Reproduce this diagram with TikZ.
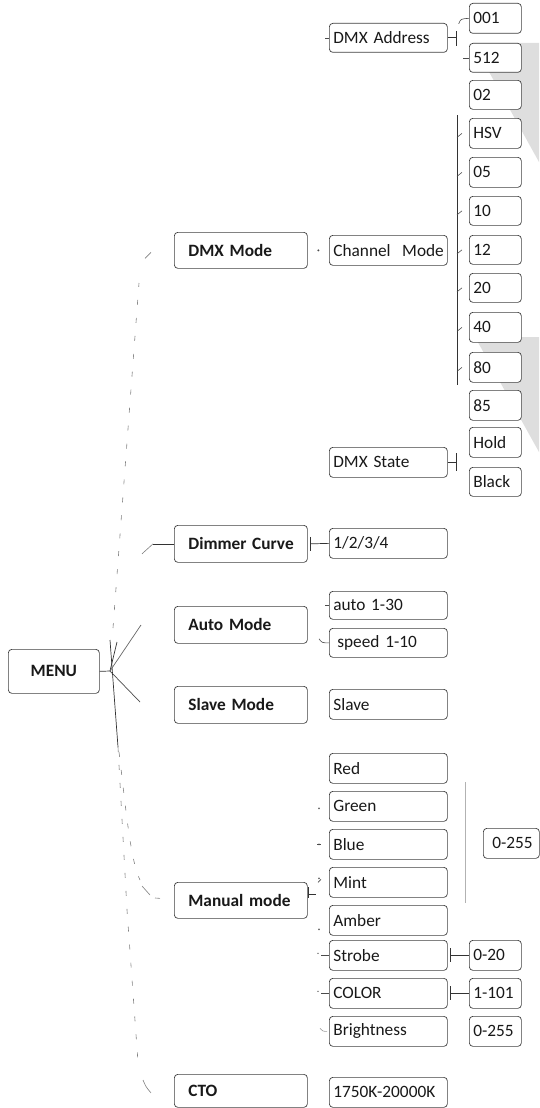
\documentclass[tikz,border=0pt]{standalone}
\usepackage{fontspec}
\setmainfont[WordSpace=0.8]{Carlito}
\usetikzlibrary{calc}
\newcommand{\fsz}{\fontsize{17.3}{20}\selectfont}
\begin{document}
\begin{tikzpicture}[x=1pt,y=-1pt,
 bx/.style={draw=black!75, line width=0.7pt, rounded corners=3.5pt, fill=white, anchor=north west, font=\fsz, text=black!90, inner ysep=0pt, align=left},
 lb/.style={bx, font=\fsz\bfseries, text width=105pt, inner xsep=14pt, minimum height=36pt},
 rb/.style={bx, text width=110pt, inner xsep=4pt, minimum height=30pt},
 sb/.style={bx, text width=44pt, inner xsep=4pt, minimum height=30pt},
 ln/.style={draw=black!80, line width=0.7pt},
 dl/.style={draw=black!50, line width=0.6pt, dash pattern=on 5pt off 13pt},
 tk/.style={draw=black!70, line width=0.6pt},
 shade/.style={fill=black!13, draw=none}]
\useasboundingbox (0,0) rectangle (539,1108);
% grey shading
\fill[shade] (473,43) -- (539,43) -- (539,162) -- cycle;
\fill[shade] (475,337) -- (539,337) -- (539,452) -- cycle;
% root
\node[bx, font=\fsz\bfseries, minimum width=91pt, minimum height=44pt, align=center, inner xsep=0pt] (menu) at (8,649) {MENU};
% left column
\node[lb] (dmxmode) at (174,232) {\mbox{DMX Mode}};
\node[lb, minimum height=37pt] (dimmer) at (174,525) {\mbox{Dimmer Curve}};
\node[lb, minimum height=37pt] (auto) at (174,606) {\mbox{Auto Mode}};
\node[lb, minimum height=37pt] (slave) at (174,686) {\mbox{Slave Mode}};
\node[lb] (manual) at (174,882) {\mbox{Manual mode}};
\node[lb, minimum height=33pt] (cto) at (174,1074) {CTO};
% second column
\node[rb, minimum height=29pt] (dmxaddr) at (329,23) {\mbox{DMX Address}};
\node[rb] (chmode) at (329,235) {\mbox{Channel~\ Mode}};
\node[rb] (dmxstate) at (329,447) {\mbox{DMX State}};
\node[rb] (curve) at (329,528) {1/2/3/4};
\node[rb, minimum height=28pt] (auto130) at (329,591) {\mbox{auto 1-30}};
\node[rb, minimum height=29pt] (speed) at (329,628) {\mbox{\hspace*{4pt}speed 1-10}};
\node[rb] (slavev) at (329,689) {Slave};
\node[rb] (red) at (329,753) {Red};
\node[rb] (green) at (329,791) {Green};
\node[rb] (blue) at (329,829) {Blue};
\node[rb] (mint) at (329,867) {Mint};
\node[rb] (amber) at (329,905) {Amber};
\node[rb] (strobe) at (329,940) {Strobe};
\node[rb] (color) at (329,978) {COLOR};
\node[rb] (bright) at (329,1016) {Brightness};
\node[rb] (ctov) at (329,1077) {\mbox{1750K-20000K}};
% third column
\node[sb] (c001) at (469,3) {001};
\node[sb, minimum height=29pt] (c512) at (469,43) {512};
\node[sb, minimum height=29pt] (c02) at (469,80) {02};
\node[sb] (hsv) at (469,118) {HSV};
\node[sb] (c05) at (469,157) {05};
\node[sb, minimum height=29pt] (c10) at (469,196) {10};
\node[sb, minimum height=29pt] (c12) at (469,235) {12};
\node[sb, minimum height=29pt] (c20) at (469,273) {20};
\node[sb] (c40) at (469,312) {40};
\node[sb] (c80) at (469,352) {80};
\node[sb] (c85) at (469,390) {85};
\node[sb] (hold) at (469,427) {Hold};
\node[sb, minimum height=29pt] (nblack) at (469,467) {Black};
\node[sb] (v020) at (469,940) {\mbox{0-20}};
\node[sb] (v1101) at (469,978) {\mbox{1-101}};
\node[sb] (v0255b) at (469,1016) {\mbox{0-255}};
\node[bx, text width=38pt, inner xsep=9pt, minimum height=30pt] (v0255) at (483,828) {\mbox{0-255}};
% DMX Address connectors
\draw[tk] ($(dmxaddr.west)+(-4,0)$) -- (dmxaddr.west);
\draw[ln] (dmxaddr.east) -- ++(9,0) coordinate (ja);
\draw[ln] ($(ja)+(0,-7)$) -- ($(ja)+(0,8)$);
\draw[tk] ($(ja)+(2,-14)$) .. controls ($(ja)+(4,-19)$) .. (c001.west);
\draw[tk] ($(c512.west)+(-6,0)$) -- (c512.west);
% Channel mode
\coordinate (chT) at (457,115);
\coordinate (chB) at (457,385);
\draw[ln] (chT) -- (chB);
\foreach \n in {hsv,c05,c10,c12,c20,c40,c80}
  \draw[tk] ($(\n.west)+(-12,4)$) -- ($(\n.west)+(-7,0)$);
\fill[black!70] ($(dmxmode.east)!0.5!(chmode.west)$) circle (1.1pt);
% DMX State
\draw[ln] (dmxstate.east) -- ++(9,0) coordinate (js);
\draw[ln] ($(js)+(0,-9)$) -- ($(js)+(0,9)$);
% Dimmer curve
\draw[ln] ($(dimmer.east)+(3,-7)$) -- ($(dimmer.east)+(3,7)$);
\draw[ln] ($(dimmer.east)+(3,0)$) -- (curve.west);
% Auto mode
\draw[tk] ($(auto130.west)+(-4,0)$) -- (auto130.west);
\draw[tk] ($(speed.west)+(-10,-4)$) .. controls ($(speed.west)+(-7,0)$) .. (speed.west);
% Manual mode
\draw[ln] ($(manual.east)+(1,-13)$) -- ($(manual.east)+(1,-2)$);
\draw[ln] ($(manual.east)+(1,-6)$) -- ($(manual.east)+(8,-6)$);
\foreach \n/\dy in {green/2,blue/0,mint/-4,amber/9}
  \fill[black!60] ($(\n.west)+(-10,\dy)$) circle (0.9pt);
\draw[tk] ($(blue.west)+(-12,0)$) -- ($(blue.west)+(-8,0)$);
\draw[tk] ($(mint.west)+(-11,0)$) -- ($(mint.west)+(-8,-3)$);
\foreach \n in {strobe,color}{
  \fill[black!60] ($(\n.west)+(-11,-2)$) circle (0.8pt);
  \draw[tk] ($(\n.west)+(-8,0)$) -- (\n.west);
}
\draw[tk, draw=black!40] ($(bright.west)+(-9,-3)$) .. controls ($(bright.west)+(-6,0)$) .. ($(bright.west)+(-2,0)$);
\coordinate (g1) at (465,782);
\coordinate (g2) at (465,903);
\draw[draw=black!30, line width=0.6pt] (g1) -- (g2);
\foreach \a/\b in {strobe/v020,color/v1101}{
  \draw[ln] ($(\a.east)+(3,-7)$) -- ($(\a.east)+(3,7)$);
  \draw[ln] ($(\a.east)+(3,0)$) -- (\b.west);
}
% MENU fan
\coordinate (fan) at (110,671);
\coordinate (fa) at (117,642);
\coordinate (fb1) at (110,640);
\coordinate (fb2) at (118,747);
\coordinate (fc) at (141,625);
\coordinate (fd) at (140,702);
\draw[ln] (menu.east) -- (fan);
\draw[ln] (fan) -- (fa);
\draw[ln] (fb1) -- (fb2);
\draw[ln, draw=black!60] (fan) -- (fc);
\draw[ln, draw=black!70] (fan) -- (fd);
% to DMX Mode
\coordinate (up1) at (113,628);
\coordinate (up2) at (139,283);
\draw[dl] (up1) -- (up2);
\draw[tk, draw=black!50] ($(dmxmode.west)+(-29,8)$) -- ($(dmxmode.west)+(-23,2)$);
% to Dimmer Curve
\draw[tk, draw=black!50] ($(dimmer.west)+(-32,10)$) -- ($(dimmer.west)+(-21,0)$);
\draw[ln] ($(dimmer.west)+(-21,0)$) -- (dimmer.west);
% down to Manual mode and CTO
\draw[dl] (fb2) -- (127,910) -- (138,1062);
\draw[tk, draw=black!50] (143,1080) .. controls (146,1087) .. ($(cto.west)+(-23,2)$);
\draw[dl] (119,752) .. controls (125,800) and (130,860) .. (140,880);
\draw[tk, draw=black!50] (142,886) -- (150,895);
\draw[tk, draw=black!50] (155,898) -- ($(manual.west)+(-14,-2)$);
\end{tikzpicture}
\end{document}
